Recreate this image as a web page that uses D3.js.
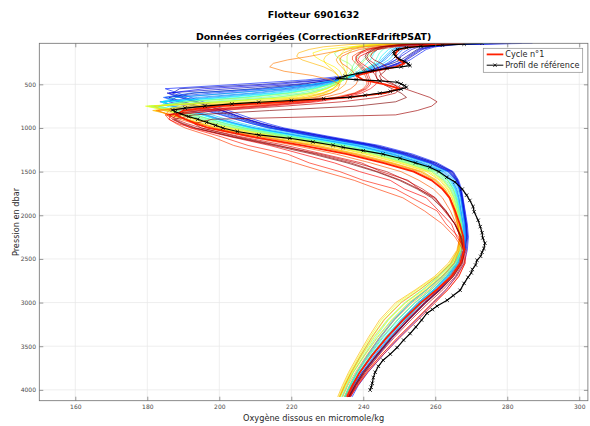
<!DOCTYPE html>
<html>
<head>
<meta charset="utf-8">
<script src="https://cdn.jsdelivr.net/npm/d3@7"></script>
<style>
  html, body { margin: 0; padding: 0; background: #fff; }
  svg { display: block; font-family: "DejaVu Sans", sans-serif; }
</style>
</head>
<body>
<svg id="chart" width="590" height="426"></svg>
<script>
// Pressure levels (dbar) shared by every float cycle
const pressureLevels = [30, 45, 70, 100, 140, 180, 220, 260, 300, 350, 400, 450, 500, 550, 600, 650, 700, 750, 800, 850, 900, 950, 1000, 1100, 1200, 1300, 1400, 1500, 1600, 1700, 1800, 1950, 2100, 2250, 2400, 2550, 2700, 2850, 3000, 3200, 3400, 3600, 3800, 3950, 4080];

// Corrected dissolved oxygen (micromole/kg), one array per cycle
const cycle01 = [268, 260, 253, 250, 249, 249, 250, 251.5, 249, 243, 238, 240, 246, 250, 246, 236, 218, 200, 190, 188, 190.5, 193.5, 197, 209, 223, 235.5, 245.5, 254, 259, 262, 264, 265.5, 266.8, 267.8, 268, 267, 264.5, 260.5, 256, 251, 246.5, 242.5, 239, 237, 235.5];
const cycle02 = [276, 262, 257, 255, 253.5, 252, 250.5, 248, 245, 241, 236.5, 231, 223, 210, 193, 186, 190, 194.5, 199, 203, 206.5, 210.5, 215, 228, 242, 251.5, 259, 264, 266, 267, 267.5, 268, 268.6, 268.8, 268.3, 266.8, 264.2, 260.8, 256.5, 251.8, 247.5, 243.6, 239.8, 237.6, 236.2];
const cycle03 = [284, 265, 259, 256.5, 255, 253.5, 252, 250, 247.5, 243, 237, 228, 212, 189, 187, 190.5, 194, 197.5, 201, 204.5, 208, 212, 217, 230, 243.5, 253, 260, 264.8, 266.3, 267, 267.4, 267.9, 268.4, 268.6, 268, 266.9, 264.5, 261.2, 257.2, 252.5, 248, 244, 239.6, 237.3, 235.8];
const cycle04 = [279, 263, 258, 255.5, 254, 252.5, 251.5, 249.5, 246.5, 242, 237.5, 232, 221, 203, 185.5, 189, 193, 197, 200.5, 204, 207.5, 211.5, 216.5, 229.5, 243, 252.5, 259.8, 264.6, 266.2, 267.1, 267.6, 268.2, 268.7, 269, 268.6, 267.2, 264.8, 261.5, 257.4, 252.6, 248.2, 244.2, 240.4, 238, 236.5];
const cycle05 = [272, 260, 255.5, 253.5, 252, 250.5, 249, 247, 244.5, 241, 237, 233, 227, 218, 203, 188, 186, 191, 196, 200.5, 204.5, 209, 214, 227, 241, 250.8, 258.4, 263.6, 265.8, 266.7, 267.2, 267.7, 268.2, 268.4, 267.8, 266, 263.2, 259.6, 255.2, 250.6, 246.4, 242.6, 239, 236.8, 235.4];
const cycle06 = [281, 264, 258.5, 256, 254.5, 253, 251.5, 249.5, 247, 242.5, 237, 229.5, 216, 196, 186, 189.5, 193.5, 197, 200.5, 204, 207.5, 211.5, 216, 229, 242.5, 252, 259.2, 264.3, 266.1, 266.9, 267.4, 268, 268.5, 268.7, 268.2, 266.9, 264.5, 261.3, 257, 252.3, 247.8, 243.8, 240, 237.7, 236.1];
const cycle07 = [287, 266, 260, 257.5, 256, 254.5, 253, 251, 248, 243.5, 236, 224, 205, 185, 188.5, 192, 195.5, 199, 202.5, 206, 209.5, 213.5, 218, 231, 244.5, 253.8, 260.6, 265, 266.5, 267.3, 267.7, 268.3, 268.9, 269.2, 268.9, 268, 265.8, 263, 259.5, 254.8, 250, 245.5, 241.3, 238.6, 236.9];
const cycle08 = [270, 258, 254, 252.5, 251, 250, 249, 247.5, 245, 241.5, 237.5, 233, 225.5, 214, 198, 185, 189, 193.5, 198, 202, 206, 210, 214.5, 227.5, 241.5, 251, 258.6, 263.8, 265.9, 266.8, 267.3, 267.8, 268.3, 268.5, 268, 266.5, 263.8, 260.2, 256, 251.2, 247, 243.2, 239.6, 237.3, 235.9];
const cycle09 = [266, 257, 253, 251, 250, 249, 248, 246.5, 244.5, 241.5, 238, 234, 226, 212, 192, 184.5, 188.5, 193, 197, 201, 205, 209, 213.5, 226.5, 240.5, 250.2, 258, 263.4, 265.6, 266.6, 267.1, 267.6, 268.1, 268.3, 267.9, 266.3, 263.5, 259.9, 255.5, 250.8, 246.6, 242.8, 239.2, 237, 235.6];
const cycle10 = [270, 256, 251, 249, 248, 247, 246, 244.5, 242.5, 240, 237, 233.5, 228, 220, 209, 194, 183.5, 187.5, 192.5, 196.5, 200.5, 205, 210, 224, 238.5, 248.5, 256.5, 262.5, 264.8, 266, 266.6, 267.2, 267.8, 268.1, 267.4, 265.4, 262, 257.8, 253.2, 248.6, 244.8, 241.4, 238.3, 236.3, 234.9];
const cycle11 = [267, 255, 250.5, 248.5, 247.5, 246.5, 245.5, 244.5, 243, 240.5, 237.5, 234, 229, 221.5, 211, 197, 184.5, 187, 192, 196, 200, 204.5, 209.5, 223.5, 238, 248, 256, 262.2, 264.6, 265.8, 266.5, 267.1, 267.7, 268, 267.2, 265.2, 261.8, 257.6, 253, 248.3, 244.5, 241.2, 238.1, 236.2, 234.8];
const cycle12 = [264, 254, 250, 248, 247, 246, 245, 244, 242, 239.5, 237, 234, 230, 223.5, 214, 200, 185, 186.5, 191.5, 195.5, 199.5, 204, 209, 223, 237.5, 247.5, 255.6, 261.8, 264.3, 265.6, 266.3, 266.9, 267.5, 267.8, 267.3, 265.8, 262.8, 259, 254.5, 249.6, 245.5, 241.8, 238.3, 236.3, 234.8];
const cycle13 = [275, 259, 253, 250.5, 249, 248, 247, 245.5, 243.5, 240.5, 237, 232.5, 226, 217, 204, 188, 184, 189, 194, 198, 202, 206.5, 211.5, 225.5, 239.5, 249.5, 257.3, 263, 265.2, 266.3, 266.9, 267.5, 268.1, 268.4, 268, 266.6, 263.9, 260.5, 256.4, 251.6, 247.3, 243.4, 239.8, 237.5, 236];
const cycle14 = [260, 252, 248.5, 247, 246, 245, 244.5, 243.5, 242, 240, 237.5, 234.5, 230.5, 225, 216, 202, 184, 185.5, 190.5, 195, 199, 203.5, 208.5, 222, 236.5, 246.8, 255, 261.4, 264, 265.4, 266.1, 266.8, 267.4, 267.7, 267.4, 266.2, 263.5, 259.8, 255.6, 250.6, 246.2, 242.3, 238.6, 236.4, 234.9];
const cycle15 = [259, 250, 246, 244, 243, 242.5, 242, 241, 240, 238.5, 236.5, 234, 230.5, 226, 218.5, 206, 189, 183, 188.5, 193, 197.5, 202, 207, 220.5, 235, 245.4, 254, 260.8, 263.5, 265, 265.8, 266.6, 267.2, 267.6, 267.3, 266, 263.2, 259.6, 255.2, 250.2, 246, 242.2, 238.8, 236.6, 235.1];
const cycle16 = [262, 251, 247, 245.5, 244.5, 244, 243.5, 243, 241.5, 239.5, 237, 234.5, 231, 226.5, 219, 207, 190, 183, 189, 193.5, 197.5, 202, 207, 220.5, 235, 245.6, 254, 260.8, 263.6, 265.1, 265.9, 266.6, 267.2, 267.5, 267.1, 265.5, 262.6, 258.8, 254.3, 249.4, 245.2, 241.6, 238.2, 236.2, 234.7];
const cycle17 = [258, 249, 245, 243, 242, 241, 240, 239, 238, 237, 236, 234.5, 232, 228.5, 222.5, 212, 196, 181.5, 187, 191.5, 196, 200.5, 205.5, 219, 233.5, 244.4, 253, 260, 263, 264.6, 265.6, 266.4, 267, 267.4, 266.8, 264.6, 261, 256.5, 251.8, 247, 243.4, 240.2, 237.2, 235.4, 234];
const cycle18 = [255, 246, 242, 240, 239, 238.5, 238, 237.5, 237, 236.5, 235.5, 234.5, 232.5, 229.5, 224.5, 215.5, 200, 181, 186, 190.5, 195, 199.5, 204.5, 218, 232.5, 243.5, 252.2, 259.4, 262.6, 264.3, 265.4, 266.2, 266.9, 267.3, 266.9, 265.2, 262, 257.8, 253, 248, 244, 240.5, 237.3, 235.5, 234.1];
const cycle19 = [256, 244, 238, 234, 232, 232.5, 234, 236, 237, 237, 236, 234.5, 232.5, 229.5, 225, 216, 201, 180, 185.5, 190, 194.5, 199, 204, 217.5, 232, 243, 251.8, 259, 262.3, 264.1, 265.2, 266.1, 266.8, 267.2, 266.6, 264.6, 261, 256.6, 251.5, 246.6, 242.8, 239.6, 236.8, 235, 233.6];
const cycle20 = [262, 250, 245.5, 243.5, 242.5, 241.5, 240.5, 239.5, 238.5, 237.5, 236, 234, 231, 227, 220, 208.5, 191, 182.5, 188, 192.5, 197, 201.5, 206.5, 220, 234.5, 245, 253.6, 260.5, 263.4, 264.9, 265.8, 266.6, 267.3, 267.7, 267.3, 265.8, 262.8, 258.9, 254.4, 249.4, 245.2, 241.6, 238.2, 236.2, 234.8];
const cycle21 = [252, 243, 239, 237, 236, 235.5, 235.5, 235.5, 235.5, 235.5, 235, 234, 232.5, 230, 226, 218.5, 203, 180.5, 186, 190.5, 194, 198.5, 203.5, 217, 231.5, 242.5, 251.4, 258.8, 262.1, 264, 265.1, 266, 266.7, 267.1, 266.4, 264.4, 260.5, 255.6, 250.2, 245.6, 242.2, 239.3, 236.5, 234.7, 233.4];
const cycle22 = [250, 241, 237, 235, 234, 233.5, 233.5, 234, 234.5, 235, 234.5, 233.5, 232, 230, 226.5, 220, 199, 179.5, 185.5, 190, 193, 197.5, 202.5, 216, 230.5, 241.5, 250.6, 258.2, 261.7, 263.6, 264.8, 265.8, 266.5, 266.9, 266.2, 264, 260.2, 255, 249.6, 245, 241.8, 239, 236.2, 234.5, 233.2];
const cycle23 = [258, 245, 236, 229, 226, 226.5, 228, 230, 232, 233.5, 234, 234, 233.5, 232, 229.5, 224.5, 212, 190, 182, 186.5, 191, 195, 199.5, 212.5, 227, 238.5, 248, 256.2, 260.3, 262.7, 264.1, 265.4, 266.3, 266.8, 266.5, 264.8, 261.4, 257, 251.8, 246.8, 243, 239.8, 236.8, 234.9, 233.5];
const cycle24 = [255, 244, 238, 234, 231, 229.5, 229, 229.5, 230.5, 232, 233, 233.5, 233, 231.5, 228.5, 222, 208, 182, 184.5, 189, 193, 197, 201.5, 215, 229.5, 240.6, 249.8, 257.6, 261.3, 263.3, 264.6, 265.7, 266.5, 267, 266.8, 265.2, 261.8, 257.5, 252.6, 247.8, 243.8, 240.4, 237.1, 235.1, 233.6];
const cycle25 = [248, 236, 229, 225, 222, 221.5, 223, 226, 229, 231.5, 233, 233.5, 233, 231.5, 229, 224, 213, 192, 181.5, 187, 191.5, 195.5, 200, 213, 227.5, 238.8, 248.3, 256.5, 260.5, 262.8, 264.2, 265.4, 266.3, 266.8, 266, 263.6, 259.8, 254.6, 249, 244.5, 241.4, 238.6, 235.9, 234.2, 232.9];
const cycle26 = [263, 249, 241, 237, 234.5, 233, 232.5, 233, 234, 235, 235.5, 235.5, 235, 233.5, 231, 226, 216, 197, 183, 186, 190.5, 194.5, 198.5, 211, 225.5, 237, 246.8, 255, 259.6, 262.2, 263.8, 265.1, 266.1, 266.7, 266.6, 265.2, 262.3, 258.4, 253.6, 248.6, 244.5, 241, 237.8, 235.7, 234.3];
const cycle27 = [262, 247, 240, 235, 230, 225, 219, 215, 214, 218, 226, 231, 233.5, 233, 231, 227, 218, 199, 182.5, 186.5, 190.5, 194.5, 198.5, 211.5, 226, 237.6, 247.4, 255.8, 260, 262.4, 264, 265.3, 266.2, 266.8, 266.2, 264.3, 260.6, 255.8, 250.6, 245.8, 242.4, 239.4, 236.6, 234.8, 233.4];
const cycle28 = [266, 252, 244, 239, 236, 234, 233.5, 234, 235.5, 237, 238, 238.5, 238, 236.5, 234, 229, 220, 204, 186, 185, 189, 193, 197, 208, 221, 232.5, 242, 250.5, 255.5, 259.5, 262, 264.2, 265.8, 266.9, 267.4, 266.6, 264, 260.4, 256, 251, 246.6, 242.6, 239, 236.7, 235.1];
const cycle29 = [267, 253, 245, 241, 238.5, 237, 237, 238, 239, 240, 240.5, 241, 241, 240, 237.5, 232, 222.5, 208, 192, 185, 186, 188, 190.5, 198, 204, 213, 221, 229, 237.5, 244, 251, 257, 262, 265.5, 267.8, 268.2, 266.6, 263.6, 259.6, 254.6, 249.6, 245, 240.9, 238.4, 236.3];
const cycle30 = [268, 254, 246, 242, 239.5, 238, 238, 239, 240, 241, 241.5, 242, 242, 241, 238.5, 233, 224, 210, 194, 185.5, 187, 189.5, 192, 200.5, 208, 219, 225, 233.5, 240, 249, 253.5, 260.5, 263, 266.5, 268, 268, 266, 263, 259.2, 254.4, 249.6, 245, 240.8, 238.2, 236.2];
const cycle31 = [270, 258, 249, 244, 241, 239, 238.5, 239.5, 241, 242.5, 243.5, 244, 243.5, 242, 239.5, 235, 227, 214, 198, 186.5, 186, 188.5, 192.5, 203, 214, 223, 232, 239, 247.5, 251.5, 257.5, 261, 264.5, 266, 268.6, 268.3, 266.5, 263.6, 260, 255.2, 250.2, 245.5, 241.2, 238.5, 236.4];
const cycle32 = [265, 251, 244.5, 241, 239, 238, 238, 238.5, 239.5, 240.5, 241, 241.5, 241.5, 240.5, 238, 233.5, 225.5, 211.5, 195, 186, 188, 191, 195, 206, 218.5, 229, 239.5, 245, 252.5, 255.5, 260, 262.5, 265.5, 267, 267.8, 267, 264.6, 261, 257, 252.2, 247.8, 243.6, 239.9, 237.6, 235.8];
const cycle33 = [263, 252, 246, 243, 241.5, 241, 241.5, 243, 244, 244.5, 245, 246.5, 248.5, 250, 249, 244, 234, 218, 200, 188, 187, 189.5, 193, 204, 216, 228, 238, 246.5, 252, 256.5, 260, 263, 265.4, 267, 267.9, 267.6, 265.6, 262.2, 258.2, 253.2, 248.6, 244.4, 240.5, 238, 236.1];
const cycle34 = [264, 253, 247, 244, 242.5, 242, 243, 245, 246.5, 246, 244.5, 245, 248, 251.5, 255, 258.5, 260.5, 259, 255, 249, 198, 193, 195, 205, 216.5, 227, 236.5, 244, 250.5, 255.5, 259.5, 263, 265.5, 267.4, 268.2, 267.4, 265.1, 261.6, 257.5, 252.6, 248, 243.9, 240.2, 237.8, 236];
const cycle35 = [260, 250, 245, 242.5, 241, 240.5, 241, 242, 243, 243.5, 243.5, 244, 245.5, 248, 250.5, 252, 249, 238, 214, 193, 187.5, 190, 193.5, 203.5, 215, 226, 235.5, 243.5, 250, 255, 259, 262.8, 265.4, 267.2, 268, 267.3, 265, 261.4, 257.2, 252.4, 247.8, 243.8, 240.1, 237.7, 235.9];

// Reference profile (pressure, oxygen)
const refPressure = [30, 40, 52, 65, 80, 100, 125, 150, 180, 210, 240, 265, 285, 300, 318, 345, 375, 405, 432, 445, 460, 476, 495, 515, 533, 555, 580, 601, 625, 647, 665, 685, 705, 725, 750, 772, 794, 815, 840, 870, 900, 935, 970, 1000, 1040, 1080, 1118, 1160, 1198, 1222, 1260, 1300, 1347, 1400, 1450, 1500, 1565, 1620, 1700, 1770, 1830, 1900, 1960, 2057, 2130, 2200, 2260, 2320, 2380, 2424, 2470, 2515, 2570, 2620, 2660, 2710, 2780, 2859, 2920, 2973, 3040, 3080, 3122, 3200, 3280, 3355, 3430, 3515, 3590, 3660, 3730, 3798, 3860, 3924, 3970, 4003];
const refOxygen = [273, 268, 262, 256, 252, 249.5, 248.5, 248.5, 249, 250, 251.5, 252.5, 253, 250.5, 246.6, 242.5, 238.5, 235, 232.7, 238, 244.6, 249.4, 250.5, 251.5, 252, 250.5, 247.5, 244.6, 240.5, 236.3, 229, 220, 211, 203.5, 196, 190.5, 187, 187.8, 189.5, 191.5, 194, 196.5, 199, 201, 205, 211, 219.6, 226, 231.6, 234.4, 240, 245.5, 250.2, 254.5, 258.5, 261, 263.2, 265.5, 267.5, 268.7, 269.6, 270.5, 270.8, 271.9, 272.5, 273, 273.2, 273.8, 273.5, 273, 272.6, 271.6, 271.2, 270.3, 270, 269.1, 268, 266.9, 265, 263.3, 260.5, 259.2, 257.7, 256.2, 254.6, 253, 251.2, 249.4, 247.5, 245.5, 244.2, 243.3, 242.8, 242.5, 242.2, 241.9];

// Axis ticks
const xTicks = [160, 180, 200, 220, 240, 260, 280, 300];
const yTicks = [500, 1000, 1500, 2000, 2500, 3000, 3500, 4000];

const laterCycles = [cycle02, cycle03, cycle04, cycle05, cycle06, cycle07, cycle08, cycle09, cycle10, cycle11, cycle12, cycle13, cycle14, cycle15, cycle16, cycle17, cycle18, cycle19, cycle20, cycle21, cycle22, cycle23, cycle24, cycle25, cycle26, cycle27, cycle28, cycle29, cycle30, cycle31, cycle32, cycle33, cycle34, cycle35];

const svg = d3.select('#chart');
const L = 39.3, R = 587.9, T = 43.3, B = 400.7;
const x = d3.scaleLinear().domain([150, 302.4]).range([L, R]);
const y = d3.scaleLinear().domain([30, 4124]).range([T, B]);

// jet colormap
function jet(t) {
  const c = v => Math.max(0, Math.min(1, v));
  return d3.rgb(255 * c(1.5 - Math.abs(4 * t - 3)), 255 * c(1.5 - Math.abs(4 * t - 2)), 255 * c(1.5 - Math.abs(4 * t - 1))).formatHex();
}

svg.append('rect').attr('x', 0).attr('y', 0).attr('width', 590).attr('height', 426).attr('fill', '#fff');

// grid
const grid = svg.append('g').attr('stroke', '#e6e6e6').attr('stroke-width', 0.7);
grid.selectAll('line.gx').data(xTicks).join('line')
  .attr('x1', d => x(d)).attr('x2', d => x(d)).attr('y1', T).attr('y2', B);
grid.selectAll('line.gy').data(yTicks).join('line')
  .attr('y1', d => y(d)).attr('y2', d => y(d)).attr('x1', L).attr('x2', R);

svg.append('defs').append('clipPath').attr('id', 'plotclip')
  .append('rect').attr('x', L).attr('y', T).attr('width', R - L).attr('height', B - T);

const plot = svg.append('g').attr('clip-path', 'url(#plotclip)');
const line = d3.line().x(d => x(d[0])).y(d => y(d[1]));

laterCycles.forEach((vals, i) => {
  plot.append('path')
    .datum(vals.map((v, k) => [v, pressureLevels[k]]))
    .attr('d', line)
    .attr('fill', 'none')
    .attr('stroke', jet(i / (laterCycles.length - 1)))
    .attr('stroke-width', 0.65)
    .attr('stroke-linejoin', 'round');
});

// cycle 1
plot.append('path')
  .datum(cycle01.map((v, k) => [v, pressureLevels[k]]))
  .attr('d', line)
  .attr('fill', 'none')
  .attr('stroke', '#ff2000')
  .attr('stroke-width', 1.8)
  .attr('stroke-linejoin', 'round');

// reference profile
const refPts = refOxygen.map((v, k) => [v, refPressure[k]]);
plot.append('path').datum(refPts).attr('d', line)
  .attr('fill', 'none').attr('stroke', '#000').attr('stroke-width', 1.2);
const cross = 'M-1.7,-1.7L1.7,1.7M-1.7,1.7L1.7,-1.7';
plot.selectAll('path.mk').data(refPts).join('path')
  .attr('class', 'mk')
  .attr('transform', d => `translate(${x(d[0])},${y(d[1])})`)
  .attr('d', cross).attr('stroke', '#000').attr('stroke-width', 0.8);

// axes
const axisColor = '#6e6e6e';
const fmt = d3.format('d');
const xAxis = svg.append('g').attr('transform', `translate(0,${B})`)
  .call(d3.axisBottom(x).tickValues(xTicks).tickFormat(fmt).tickSizeInner(-4).tickSizeOuter(0).tickPadding(4.5));
const xAxisTop = svg.append('g').attr('transform', `translate(0,${T})`)
  .call(d3.axisTop(x).tickValues(xTicks).tickSizeInner(-4).tickSizeOuter(0).tickFormat(''));
const yAxis = svg.append('g').attr('transform', `translate(${L},0)`)
  .call(d3.axisLeft(y).tickValues(yTicks).tickFormat(fmt).tickSizeInner(-4).tickSizeOuter(0).tickPadding(3.3));
const yAxisRight = svg.append('g').attr('transform', `translate(${R},0)`)
  .call(d3.axisRight(y).tickValues(yTicks).tickSizeInner(-4).tickSizeOuter(0).tickFormat(''));

[xAxis, xAxisTop, yAxis, yAxisRight].forEach(a => {
  a.select('.domain').remove();
  a.selectAll('.tick line').attr('stroke', axisColor).attr('stroke-width', 0.7);
  a.selectAll('.tick text').attr('fill', '#4a4a4a').attr('font-size', 6)
    .attr('font-family', '"DejaVu Sans", sans-serif');
});

svg.append('rect').attr('x', L).attr('y', T).attr('width', R - L).attr('height', B - T)
  .attr('fill', 'none').attr('stroke', axisColor).attr('stroke-width', 0.8);

// axis titles
svg.append('text').attr('x', (L + R) / 2).attr('y', 420.5).attr('text-anchor', 'middle')
  .attr('font-size', 8.2).attr('fill', '#262626').text('Oxygène dissous en micromole/kg');
svg.append('text').attr('transform', `translate(18.5,${(T + B) / 2}) rotate(-90)`).attr('text-anchor', 'middle')
  .attr('font-size', 8.2).attr('fill', '#262626').text('Pression en dbar');

// titles
svg.append('text').attr('x', (L + R) / 2).attr('y', 17.5).attr('text-anchor', 'middle')
  .attr('font-size', 9.4).attr('font-weight', 'bold').attr('fill', '#000').text('Flotteur 6901632');
svg.append('text').attr('x', (L + R) / 2).attr('y', 39.5).attr('text-anchor', 'middle')
  .attr('font-size', 9.4).attr('font-weight', 'bold').attr('fill', '#000').text('Données corrigées (CorrectionREFdriftPSAT)');

// legend
const lg = svg.append('g');
lg.append('rect').attr('x', 483.3).attr('y', 48.3).attr('width', 99.4).attr('height', 24)
  .attr('fill', '#fff').attr('stroke', '#8a8a8a').attr('stroke-width', 0.7);
lg.append('line').attr('x1', 486.7).attr('x2', 503.3).attr('y1', 54.4).attr('y2', 54.4)
  .attr('stroke', '#ff2000').attr('stroke-width', 1.8);
lg.append('text').attr('x', 505.3).attr('y', 57.3).attr('font-size', 8.1).attr('fill', '#262626').text('Cycle n°1');
lg.append('line').attr('x1', 486.7).attr('x2', 503.3).attr('y1', 65.2).attr('y2', 65.2)
  .attr('stroke', '#000').attr('stroke-width', 1);
lg.append('path').attr('transform', 'translate(495,65.2)').attr('d', cross)
  .attr('stroke', '#000').attr('stroke-width', 0.8);
lg.append('text').attr('x', 505.3).attr('y', 68.1).attr('font-size', 8.1).attr('fill', '#262626').text('Profil de référence');
</script>
</body>
</html>
